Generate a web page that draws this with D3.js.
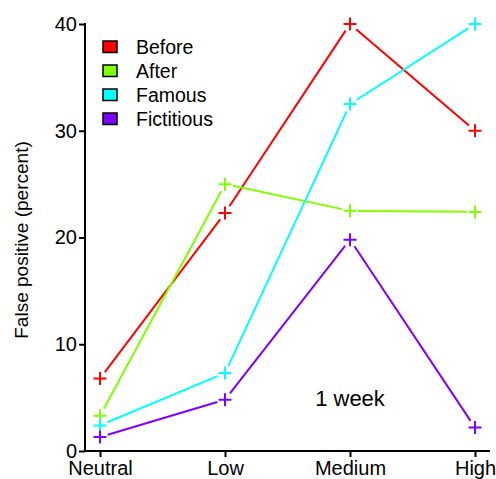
<!DOCTYPE html>
<html><head><meta charset="utf-8">
<script src="https://cdn.jsdelivr.net/npm/d3@7"></script>
<style>body{margin:0;background:#fff}svg{display:block}text{font-family:"Liberation Sans",Arial,sans-serif}</style>
</head><body><svg id="c" width="496" height="479"></svg>
<script>
const categories = ["Neutral","Low","Medium","High"];
const seriesNames = ["Before","After","Famous","Fictitious"];
const seriesColors = ["#ff0000","#80ff00","#00ffff","#8000ff"];
const before = [6.8, 22.3, 40, 30];
const after = [3.3, 25.0, 22.5, 22.4];
const famous = [2.4, 7.3, 32.5, 40];
const fictitious = [1.3, 4.8, 19.8, 2.2];
const yTicks = [0,10,20,30,40];
const series = [before, after, famous, fictitious];

const svg = d3.select("#c");
const x = d3.scalePoint().domain(categories).range([100,475]);
const y = d3.scaleLinear().domain([0,40]).range([451,24]);

// axes
const yAxis = svg.append("g").attr("transform","translate(85,0)")
  .call(d3.axisLeft(y).tickValues(yTicks).tickSize(6).tickPadding(2));
const xAxis = svg.append("g").attr("transform","translate(0,451)")
  .call(d3.axisBottom(x).tickSize(6).tickPadding(4));
[yAxis,xAxis].forEach(g=>{
  g.select(".domain").remove();
  g.selectAll(".tick line").attr("stroke","#000").attr("stroke-width",2);
  g.selectAll(".tick text").attr("font-size",20).attr("fill","#000")
   .attr("font-family","Liberation Sans, Arial, sans-serif");
});
svg.append("line").attr("x1",85).attr("x2",85).attr("y1",y(40)-1).attr("y2",y(0)+1).attr("stroke","#000").attr("stroke-width",2);
svg.append("line").attr("x1",84).attr("x2",490).attr("y1",y(0)).attr("y2",y(0)).attr("stroke","#000").attr("stroke-width",2);

svg.append("text").attr("transform","translate(28,"+240+") rotate(-90)")
  .attr("text-anchor","middle").attr("font-size",19).text("False positive (percent)");

// lines with gaps
const gap = 8;
series.forEach((vals,si)=>{
  const pts = vals.map((v,i)=>[x(categories[i]), y(v)]);
  for(let i=0;i<pts.length-1;i++){
    const [x1,y1]=pts[i],[x2,y2]=pts[i+1];
    const dx=x2-x1, dy=y2-y1, L=Math.hypot(dx,dy);
    const ux=dx/L, uy=dy/L;
    svg.append("line").attr("x1",x1+ux*gap).attr("y1",y1+uy*gap)
      .attr("x2",x2-ux*gap).attr("y2",y2-uy*gap)
      .attr("stroke",seriesColors[si]).attr("stroke-width",2);
  }
  pts.forEach(([px,py])=>{
    svg.append("path").attr("d",`M${px-6.5},${py}H${px+6.5}M${px},${py-6.5}V${py+6.5}`)
      .attr("stroke",seriesColors[si]).attr("stroke-width",2).attr("fill","none");
  });
});

// legend
seriesNames.forEach((n,i)=>{
  const yy = 41 + i*24;
  svg.append("rect").attr("x",103).attr("y",yy).attr("width",14).attr("height",11.5)
    .attr("fill",seriesColors[i]).attr("stroke","#000").attr("stroke-width",1.5);
  svg.append("text").attr("x",136).attr("y",yy+12.5).attr("font-size",19.5).text(n);
});

svg.append("text").attr("x",350).attr("y",406).attr("text-anchor","middle").attr("font-size",22).text("1 week");
</script></body></html>
